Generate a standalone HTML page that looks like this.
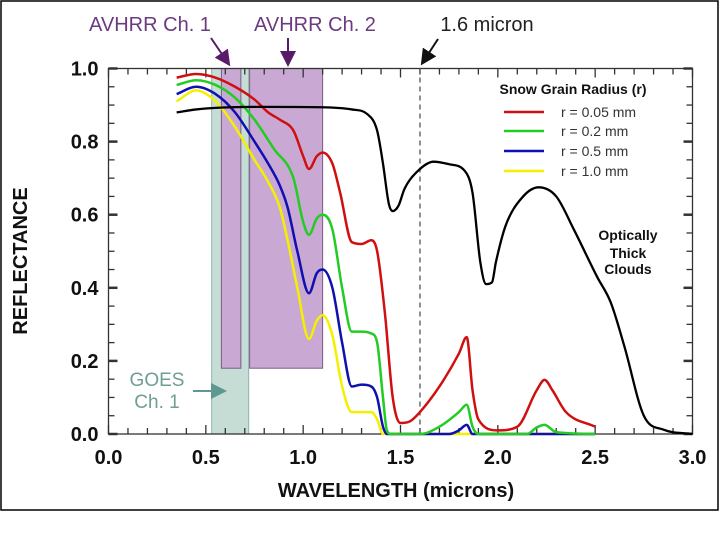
<!DOCTYPE html>
<html><head><meta charset="utf-8"><style>
body{margin:0;background:#fff;}
svg{display:block;font-family:"Liberation Sans",Arial,sans-serif;}
</style></head><body>
<svg id="chart" width="720" height="540">
<rect x="1" y="1" width="717" height="509" fill="#fff" stroke="#000" stroke-width="1.5"/>
<g id="bands"></g>
<g id="grid"></g>
<g id="series"></g>
<g id="annot"></g>
</svg>
<script>
const xTicks=[0.0,0.5,1.0,1.5,2.0,2.5,3.0];
const yTicks=[0.0,0.2,0.4,0.6,0.8,1.0];
const cloudX=[0.35,0.45,0.575,0.8,1.094,1.25,1.33,1.38,1.41,1.44,1.46,1.49,1.52,1.59,1.67,1.75,1.83,1.87,1.91,1.94,1.97,1.99,2.04,2.13,2.21,2.30,2.39,2.51,2.58,2.65,2.75,2.85,3.0];
const cloudY=[0.88,0.888,0.893,0.895,0.894,0.888,0.875,0.83,0.74,0.63,0.61,0.625,0.67,0.72,0.745,0.738,0.72,0.66,0.47,0.41,0.415,0.47,0.57,0.65,0.675,0.65,0.56,0.43,0.36,0.24,0.05,0.012,0.0];
const redX=[0.35,0.45,0.55,0.65,0.75,0.82,0.88,0.95,1.0,1.03,1.07,1.1,1.15,1.19,1.25,1.3,1.35,1.38,1.42,1.46,1.5,1.55,1.6,1.7,1.8,1.84,1.87,1.9,2.0,2.1,2.2,2.24,2.28,2.35,2.5];
const redY=[0.975,0.985,0.975,0.95,0.915,0.88,0.86,0.83,0.76,0.725,0.76,0.77,0.74,0.66,0.525,0.52,0.53,0.50,0.33,0.10,0.03,0.035,0.06,0.13,0.22,0.265,0.12,0.04,0.01,0.02,0.12,0.148,0.12,0.06,0.02];
const greenX=[0.35,0.45,0.55,0.65,0.75,0.85,0.95,1.0,1.03,1.07,1.1,1.15,1.2,1.25,1.3,1.35,1.38,1.41,1.43,1.45,1.6,1.7,1.8,1.84,1.87,1.9,2.15,2.2,2.24,2.3,2.5];
const greenY=[0.955,0.968,0.955,0.92,0.86,0.78,0.70,0.58,0.545,0.59,0.60,0.56,0.40,0.28,0.28,0.275,0.25,0.10,0.01,0.0,0.0,0.02,0.06,0.08,0.02,0.0,0.0,0.018,0.025,0.005,0.0];
const blueX=[0.35,0.45,0.55,0.65,0.75,0.82,0.88,0.92,0.97,1.03,1.07,1.1,1.15,1.2,1.25,1.3,1.35,1.38,1.41,1.43,1.75,1.8,1.84,1.87,2.5];
const blueY=[0.93,0.95,0.93,0.88,0.80,0.74,0.68,0.62,0.50,0.385,0.44,0.45,0.40,0.25,0.13,0.135,0.13,0.10,0.02,0.0,0.0,0.01,0.025,0.0,0.0];
const yellowX=[0.35,0.45,0.55,0.65,0.75,0.82,0.88,0.92,0.97,1.03,1.07,1.1,1.15,1.2,1.25,1.3,1.35,1.38,1.41,2.5];
const yellowY=[0.91,0.94,0.91,0.84,0.75,0.69,0.62,0.53,0.40,0.26,0.31,0.325,0.27,0.13,0.06,0.06,0.06,0.04,0.0,0.0];
const legendLabels=["r = 0.05 mm","r = 0.2 mm","r = 0.5 mm","r = 1.0 mm"];

const L=108.5,R=692.5,T=68.5,B=434;
const sx=v=>L+(v/3)*(R-L), sy=v=>B-v*(B-T);
const NS="http://www.w3.org/2000/svg";
function mk(tag,attrs,parent,text){const e=document.createElementNS(NS,tag);for(const k in attrs)e.setAttribute(k,attrs[k]);if(text!==undefined)e.textContent=text;parent.appendChild(e);return e;}
const bands=document.getElementById('bands'),grid=document.getElementById('grid'),series=document.getElementById('series'),annot=document.getElementById('annot');

let b=mk('rect',{x:sx(0.53),y:T,width:sx(0.72)-sx(0.53),height:B-T,fill:'#c6ddd6',stroke:'#8fb3aa','stroke-width':1},bands);

b=mk('rect',{x:sx(0.58),y:T,width:sx(0.68)-sx(0.58),height:sy(0.18)-T,fill:'#c9a9d3',stroke:'#7a5a88','stroke-width':1},bands);

b=mk('rect',{x:sx(0.725),y:T,width:sx(1.1)-sx(0.725),height:sy(0.18)-T,fill:'#c9a9d3',stroke:'#7a5a88','stroke-width':1},bands);


for(let i=0;i<=30;i++){const v=i/10,x=sx(v),len=(i%5===0)?9:6;
 let t=mk('line',{x1:x,x2:x,y1:B,y2:B-len,stroke:'#333','stroke-width':1.3},grid);
 t=mk('line',{x1:x,x2:x,y1:T,y2:T+len,stroke:'#333','stroke-width':1.3},grid);}
for(let i=0;i<=20;i++){const v=i/20,y=sy(v),len=(i%4===0)?9:6;
 let t=mk('line',{x1:L,x2:L+len,y1:y,y2:y,stroke:'#333','stroke-width':(i%4===0)?2.5:1.3},grid);
 t=mk('line',{x1:R,x2:R-len,y1:y,y2:y,stroke:'#333','stroke-width':(i%4===0)?2.5:1.3},grid);}
let fr=mk('rect',{x:L,y:T,width:R-L,height:B-T,fill:'none',stroke:'#333','stroke-width':1.3},grid);

xTicks.forEach(v=>{const t=mk('text',{x:sx(v),y:B+30,'text-anchor':'middle','font-size':20,'font-weight':'bold',fill:'#111'},grid,v.toFixed(1));
 });
yTicks.forEach(v=>{const t=mk('text',{x:L-10,y:sy(v)+7,'text-anchor':'end','font-size':20,'font-weight':'bold',fill:'#111'},grid,v.toFixed(1));
 });
let dl=mk('line',{x1:sx(1.6),x2:sx(1.6),y1:T,y2:B,stroke:'#555','stroke-width':1.3,'stroke-dasharray':'5,4'},grid);


// monotone cubic (Fritsch-Carlson) to avoid overshoot
function pathFor(xs,ys){const n=xs.length,X=xs.map(sx),Y=ys.map(sy);
 const d=[],m=new Array(n);
 for(let i=0;i<n-1;i++)d.push((Y[i+1]-Y[i])/(X[i+1]-X[i]));
 m[0]=d[0];m[n-1]=d[n-2];
 for(let i=1;i<n-1;i++){m[i]=(d[i-1]*d[i]<=0)?0:(d[i-1]+d[i])/2;}
 for(let i=0;i<n-1;i++){if(d[i]===0){m[i]=0;m[i+1]=0;continue;}
  const a=m[i]/d[i],bb=m[i+1]/d[i],s=a*a+bb*bb;if(s>9){const t=3/Math.sqrt(s);m[i]=t*a*d[i];m[i+1]=t*bb*d[i];}}
 let p='M'+X[0]+','+Y[0];
 for(let i=0;i<n-1;i++){const h=(X[i+1]-X[i])/3;
  p+=' C'+(X[i]+h)+','+(Y[i]+m[i]*h)+' '+(X[i+1]-h)+','+(Y[i+1]-m[i+1]*h)+' '+X[i+1]+','+Y[i+1];}
 return p;}
function line(xs,ys,color,name,w){const e=mk('path',{d:pathFor(xs,ys),fill:'none',stroke:color,'stroke-width':w,'stroke-linejoin':'round'},series);
 }
line(yellowX,yellowY,'#f5f000','series-r-1-0mm',2.5);
line(blueX,blueY,'#1010b0','series-r-0-5mm',2.5);
line(greenX,greenY,'#22cc22','series-r-0-2mm',2.5);
line(redX,redY,'#d01010','series-r-0-05mm',2.5);
line(cloudX,cloudY,'#000','series-optically-thick-clouds',2.3);

const lg=mk('g',{},annot);
let lt=mk('text',{x:573,y:94,'text-anchor':'middle','font-size':14,'font-weight':'bold',fill:'#111'},lg,'Snow Grain Radius (r)');

const lc=['#d01010','#22cc22','#1010b0','#f5f000'],ly=[112,131,151,171];
legendLabels.forEach((s,i)=>{const g=mk('g',{},lg);
 mk('line',{x1:504,x2:544,y1:ly[i],y2:ly[i],stroke:lc[i],'stroke-width':2.5},g);
 mk('text',{x:561,y:ly[i]+5,'font-size':14,fill:'#333'},g,s);});
</script>
<svg style="position:absolute;left:0;top:0" width="720" height="540">
<defs>
<marker id="ap" markerWidth="8" markerHeight="8" refX="6" refY="4" orient="auto"><path d="M0,0 L8,4 L0,8 z" fill="#5a1a6a"/></marker>
<marker id="ab" markerWidth="8" markerHeight="8" refX="6" refY="4" orient="auto"><path d="M0,0 L8,4 L0,8 z" fill="#111"/></marker>
<marker id="at" markerWidth="8" markerHeight="8" refX="6" refY="4" orient="auto"><path d="M0,0 L8,4 L0,8 z" fill="#5f9890"/></marker>
</defs>
<text x="150" y="31" text-anchor="middle" font-size="20" fill="#6b3a80" font-family="Liberation Sans, sans-serif">AVHRR Ch. 1</text>
<text x="315" y="31" text-anchor="middle" font-size="20" fill="#6b3a80" font-family="Liberation Sans, sans-serif">AVHRR Ch. 2</text>
<text x="487" y="31" text-anchor="middle" font-size="20" fill="#222" font-family="Liberation Sans, sans-serif">1.6 micron</text>
<line x1="211" y1="38" x2="228" y2="63" stroke="#5a1a6a" stroke-width="2" marker-end="url(#ap)"/>
<line x1="288" y1="38" x2="288" y2="63" stroke="#5a1a6a" stroke-width="2" marker-end="url(#ap)"/>
<line x1="438" y1="39" x2="423" y2="62" stroke="#111" stroke-width="2" marker-end="url(#ab)"/>
<text x="157" y="386" text-anchor="middle" font-size="19" fill="#6f9e95" font-family="Liberation Sans, sans-serif">GOES</text>
<text x="157" y="408" text-anchor="middle" font-size="19" fill="#6f9e95" font-family="Liberation Sans, sans-serif">Ch. 1</text>
<line x1="193" y1="391" x2="223" y2="391" stroke="#5f9890" stroke-width="2" marker-end="url(#at)"/>
<g font-size="14" font-weight="bold" fill="#111" text-anchor="middle" font-family="Liberation Sans, sans-serif">
<text x="628" y="240">Optically</text><text x="628" y="258">Thick</text><text x="628" y="274">Clouds</text></g>
<text x="27" y="261" transform="rotate(-90 27 261)" text-anchor="middle" font-size="20" font-weight="bold" fill="#111" font-family="Liberation Sans, sans-serif">REFLECTANCE</text>
<text x="396" y="497" text-anchor="middle" font-size="20" font-weight="bold" fill="#111" font-family="Liberation Sans, sans-serif">WAVELENGTH (microns)</text>
</svg>
</body></html>
